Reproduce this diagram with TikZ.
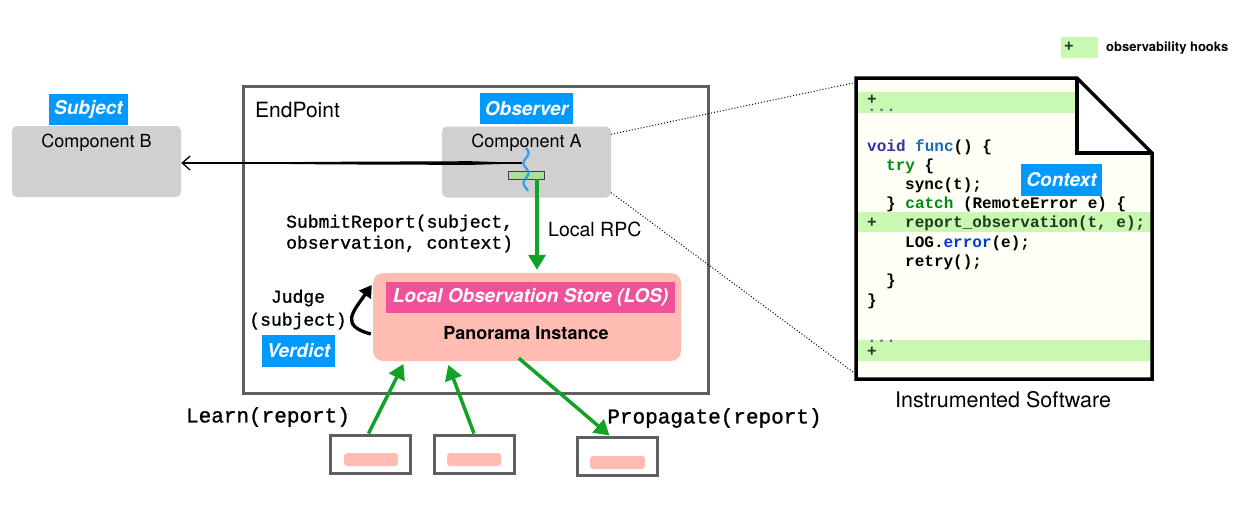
\documentclass[tikz,border=0pt]{standalone}
\usepackage{fontspec}
\setmainfont{TeX Gyre Heros}
\setmonofont{Liberation Mono}
\newfontfamily\labelmono[FakeBold=1.2]{Liberation Mono}
\usetikzlibrary{arrows.meta}

\definecolor{compgray}{RGB}{208,208,208}
\definecolor{roleblue}{RGB}{0,153,255}
\definecolor{lospink}{RGB}{255,188,178}
\definecolor{losmagenta}{RGB}{240,82,154}
\definecolor{hookgreen}{RGB}{200,248,178}
\definecolor{hookdark}{RGB}{168,224,150}
\definecolor{flowgreen}{RGB}{18,162,40}
\definecolor{docfill}{RGB}{255,255,245}
\definecolor{framegray}{RGB}{95,95,95}
\definecolor{wavecolor}{RGB}{20,150,255}
\definecolor{kwvoid}{RGB}{51,51,170}
\definecolor{kwfunc}{RGB}{20,110,190}
\definecolor{kwtry}{RGB}{0,140,20}
\definecolor{kwerror}{RGB}{0,60,210}
\definecolor{hooktext}{RGB}{30,60,30}
\definecolor{dotgray}{RGB}{85,115,130}

\tikzset{
  comp/.style={fill=compgray, rounded corners=5pt, minimum width=169pt, minimum height=71pt, inner sep=0pt},
  compname/.style={font=\fontsize{18}{20}\selectfont, inner sep=0pt},
  role/.style={fill=roleblue, text=white, font=\fontsize{19}{19}\selectfont\bfseries\itshape, inner sep=0pt, minimum height=31pt},
  frame/.style={draw=framegray, line width=3pt, minimum width=465pt, minimum height=307pt, inner sep=0pt},
  smallbox/.style={draw=framegray, line width=3pt, fill=white, minimum width=80pt, minimum height=38pt, inner sep=0pt},
  pill/.style={fill=lospink, rounded corners=3pt, minimum width=54pt, minimum height=13pt, inner sep=0pt},
  monolabel/.style={font=\fontsize{18}{23}\selectfont\labelmono, inner sep=0pt},
  codeline/.style={anchor=west, font=\fontsize{16}{16}\selectfont\ttfamily\bfseries, inner sep=0pt, text height=11pt, text depth=3pt},
  flow/.style={draw=flowgreen, line width=3.5pt, -{Triangle[length=15pt,width=17pt]}},
  zoomline/.style={dotted, line width=1pt},
}

\begin{document}
\begin{tikzpicture}[x=1pt,y=-1pt]
\useasboundingbox (0,0) rectangle (1249,519);

% endpoint frame
\node[frame] (endpoint) at (475.5,239.5) {};
\node[anchor=west, inner sep=0pt, font=\fontsize{21}{21}\selectfont] (eptitle) at (255,110) {EndPoint};

% components
\node[comp] (compB) at (96.5,161.5) {};
\node[compname] (compBname) at (96.5,143) {Component B};
\node[comp] (compA) at (526.5,162) {};
\node[compname] (compAname) at (526.5,143) {Component A};

% role labels
\node[role, minimum width=79pt] (subject) at (88.5,109.5) {Subject};
\node[role, minimum width=93pt] (observer) at (526.5,108.5) {Observer};
\node[role, minimum width=73pt, minimum height=32pt] (verdict) at (298.5,351) {Verdict};

% hook inside component A
\node[fill=hookdark, draw=black!75, line width=0.8pt, minimum width=36pt, minimum height=8pt, inner sep=0pt] (hook) at (526,175) {};
\draw[wavecolor, line width=2.2pt, opacity=0.85] plot[domain=148:191, samples=60, smooth] ({526+2.5*sin((\x-148)*18)}, \x);
\coordinate (wavemid) at (522,163);

% observation of component B (rough stroke)
\draw[line width=1.3pt, -{Straight Barb[length=8pt,width=14pt]}] (wavemid) -- (wavemid -| compB.east);
\fill (514,162.6) -- (470,161.2) -- (330,161.8) -- (230,162.6) -- (230,163.4) -- (330,164.4) -- (470,164.9) -- (514,163.6) -- cycle;

% local observation store
\node[fill=lospink, rounded corners=10pt, minimum width=308pt, minimum height=88pt, inner sep=0pt] (los) at (527,317) {};
\node[fill=losmagenta, text=white, font=\fontsize{19}{19}\selectfont\bfseries\itshape, minimum width=289pt, minimum height=31pt, inner sep=0pt] (loslbl) at (530.5,297.5) {Local Observation Store (LOS)};
\node[font=\fontsize{18}{18}\selectfont\bfseries, inner sep=0pt] (panorama) at (526,333) {Panorama Instance};

% report submission
\draw[flow, shorten >=3pt] ([xshift=11pt]hook.south) -- ([xshift=11pt]hook.south |- los.north);
\node[monolabel, anchor=west, align=left, font=\fontsize{18}{21}\selectfont\labelmono] (submit) at (286,233.5) {SubmitReport(subject,\\observation, context)};
\node[anchor=west, inner sep=0pt, font=\fontsize{19.5}{20}\selectfont] (rpc) at (548,229) {Local RPC};

% judge
\node[monolabel, align=center] (judge) at (298,309.5) {Judge\\(subject)};
\draw[line width=3.3pt, -{Triangle[length=12pt,width=14pt]}] ([xshift=-2pt,yshift=-17pt]los.west) to[out=165, in=235, looseness=1.7] ([xshift=-1pt,yshift=32pt]los.west);

% peer endpoints
\node[smallbox] (learnA) at (370.5,454) {};
\node[smallbox] (learnB) at (474,454) {};
\node[smallbox] (prop) at (617.5,456) {};
\node[pill] (pillA) at (371,459.5) {};
\node[pill] (pillB) at (474,459.5) {};
\node[pill, minimum width=55pt] (pillC) at (617.5,462.5) {};
\draw[flow, shorten >=3pt] ([xshift=-2pt]learnA.north) -- ([xshift=32pt]los.south west);
\draw[flow, shorten >=4pt] (learnB.north) -- ([xshift=74pt]los.south west);
\draw[flow] ([xshift=146pt,yshift=3pt]los.south west) -- ([xshift=-8pt]prop.north);
\node[monolabel, font=\fontsize{21}{21}\selectfont\labelmono] (learnlbl) at (268,417) {Learn(report)};
\node[monolabel, font=\fontsize{21}{21}\selectfont\labelmono] (proplbl) at (714.5,418) {Propagate(report)};

% instrumented software document
\fill[docfill] (856,78) -- (1077,78) -- (1152,153) -- (1152,379) -- (856,379) -- cycle;
\fill[hookgreen] (856,92) rectangle (1077,113);
\fill[hookgreen] (856,212) rectangle (1152,232);
\fill[hookgreen] (856,340) rectangle (1152,361);
\fill[white] (1077,78) -- (1152,153) -- (1077,153) -- cycle;
\draw[line width=3.5pt, line join=miter] (856,78) -- (1077,78) -- (1152,153) -- (1152,379) -- (856,379) -- cycle;
\draw[line width=3.5pt] (1077,78) -- (1077,153) -- (1152,153);

% code
\node[codeline, text=hooktext] (c0a) at (867,100) {+};
\node[codeline, text=dotgray] (c0b) at (867,107) {...};
\node[codeline] (c1) at (867,147) {\textcolor{kwvoid}{void} \textcolor{kwfunc}{func}() \{};
\node[codeline] (c2) at (886,166) {\textcolor{kwtry}{try} \{};
\node[codeline] (c3) at (905,185) {sync(t);};
\node[codeline] (c4) at (886,204) {\} \textcolor{kwtry}{catch} (RemoteError e) \{};
\node[codeline, text=hooktext] (c5a) at (867,223) {+};
\node[codeline, text=hooktext] (c5) at (905,223) {report\_observation(t, e);};
\node[codeline] (c6) at (905,243) {LOG.\textcolor{kwerror}{error}(e);};
\node[codeline] (c7) at (905,262) {retry();};
\node[codeline] (c8) at (886,281) {\}};
\node[codeline] (c9) at (867,301) {\}};
\node[codeline, text=dotgray] (c10a) at (867,338) {...};
\node[codeline, text=hooktext] (c10b) at (867,352) {+};

\node[role, minimum width=81pt, minimum height=32pt] (context) at (1061.5,180) {Context};
\node[font=\fontsize{21.5}{22}\selectfont, inner sep=0pt] (doccap) at (1003,400) {Instrumented Software};

% zoom lines
\coordinate (doctop) at (853,83);
\coordinate (docbot) at (853,372);
\draw[zoomline] ([yshift=-8pt]compA.north east) -- (doctop);
\draw[zoomline] ([yshift=5pt]compA.south east) -- (docbot);

% legend
\node[fill=hookgreen, minimum width=37pt, minimum height=21pt, inner sep=0pt] (legendbox) at (1079.5,47.5) {};
\node[codeline, text=hooktext] (legendplus) at (1064,47.5) {+};
\node[anchor=west, inner sep=0pt, font=\fontsize{13}{13}\selectfont\bfseries] (legendtext) at (1106,48) {observability hooks};
\end{tikzpicture}
\end{document}
